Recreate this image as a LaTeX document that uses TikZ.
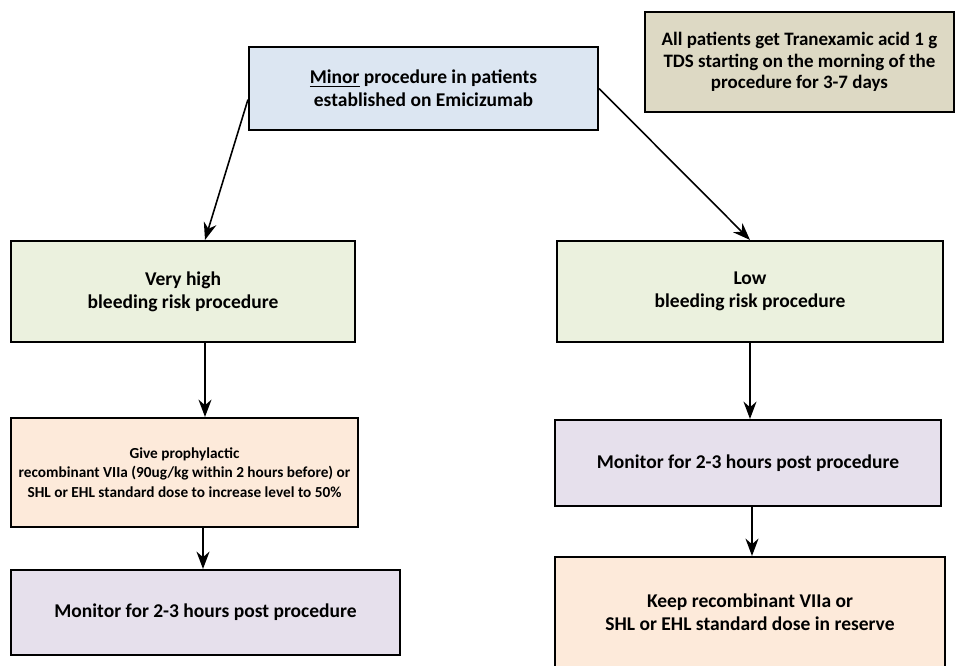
\documentclass[tikz,border=0pt]{standalone}
\usepackage{fontspec}
\setmainfont{Carlito}
\usetikzlibrary{calc}
\usetikzlibrary{arrows.meta}
\tikzset{>={Stealth[scale=1.4]}}
\usepackage[svgnames]{xcolor}
\definecolor{boxblue}{HTML}{DCE6F2}
\definecolor{boxolive}{HTML}{DDD9C4}
\definecolor{boxgreen}{HTML}{EBF1DE}
\definecolor{boxpeach}{HTML}{FDEADA}
\definecolor{boxlilac}{HTML}{E6E0EC}
\tikzset{
  flowbox/.style={draw=black, line width=1.2pt, align=center, inner sep=2pt,
    font=\fontsize{11.1}{12.9}\selectfont\bfseries},
  flowarrow/.style={->, line width=0.9pt}
}

\begin{document}
\begin{tikzpicture}[scale=1]
  \useasboundingbox (0,0) rectangle (19.1,-13.3);
  % 方框
  \node[flowbox, fill=boxblue, minimum width=6.98cm, minimum height=1.66cm] (top) at (8.47,-1.77)
    {\underline{Minor} procedure in patients\\established on Emicizumab};
  \node[flowbox, fill=boxolive, minimum width=6.18cm, minimum height=2.0cm,
    font=\fontsize{10.8}{12.2}\selectfont\bfseries] (tra) at (15.99,-1.24)
    {All patients get Tranexamic acid 1 g\\TDS starting on the morning of the\\procedure for 3-7 days};
  \node[flowbox, fill=boxgreen, minimum width=6.88cm, minimum height=2.02cm] (vh) at (3.66,-5.83)
    {Very high\\bleeding risk procedure};
  \node[flowbox, fill=boxgreen, minimum width=7.72cm, minimum height=2.02cm] (low) at (15.0,-5.83)
    {Low\\bleeding risk procedure};
  \node[flowbox, fill=boxpeach, minimum width=6.94cm, minimum height=2.18cm,
    font=\fontsize{8.7}{11}\selectfont\bfseries] (pro) at (3.69,-9.45)
    {Give prophylactic\\recombinant VIIa (90ug/kg within 2 hours before) or\\SHL or EHL standard dose to increase level to 50\%};
  \node[flowbox, fill=boxlilac, minimum width=7.72cm, minimum height=1.72cm] (monR) at (14.96,-9.26)
    {Monitor for 2-3 hours post procedure};
  \node[flowbox, fill=boxlilac, minimum width=7.78cm, minimum height=1.70cm] (monL) at (4.11,-12.25)
    {Monitor for 2-3 hours post procedure};
  \node[flowbox, fill=boxpeach, minimum width=7.8cm, minimum height=2.2cm] (keep) at (15.0,-12.24)
    {Keep recombinant VIIa or\\SHL or EHL standard dose in reserve};

  % 箭头
  \coordinate (topL) at ($(top.north west)!0.63!(top.south west)$);
  \draw[flowarrow] (topL) -- ([xshift=0.44cm]vh.north);
  \draw[flowarrow] (top.east) -- (low.north);
  \draw[flowarrow] ([xshift=0.44cm]vh.south) -- ([xshift=0.44cm]vh.south |- pro.north);
  \draw[flowarrow] ([xshift=0.37cm]pro.south) -- ([xshift=0.37cm]pro.south |- monL.north);
  \draw[flowarrow] (low.south) -- (low.south |- monR.north);
  \draw[flowarrow] ([xshift=0.08cm]monR.south) -- ([xshift=0.08cm]monR.south |- keep.north);
\end{tikzpicture}
\end{document}
